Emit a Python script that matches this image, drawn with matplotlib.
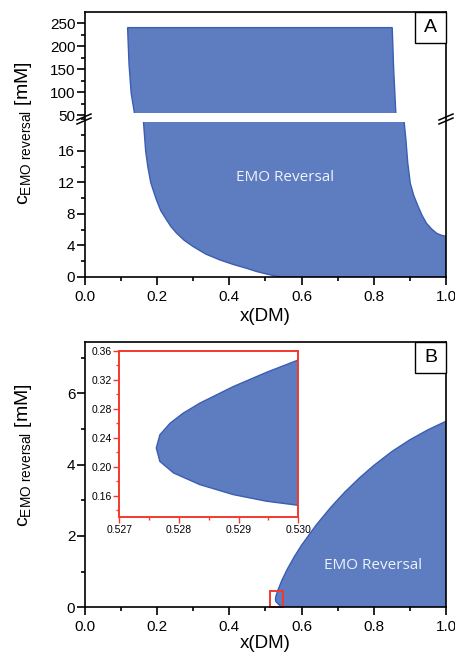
import matplotlib
matplotlib.use("Agg")
import matplotlib.pyplot as plt
from matplotlib.ticker import MultipleLocator, FormatStrFormatter
from matplotlib.lines import Line2D
from matplotlib.patches import Rectangle

plt.rcParams['font.family'] = ['Liberation Sans', 'DejaVu Sans']
plt.rcParams['mathtext.fontset'] = 'custom'
plt.rcParams['mathtext.rm'] = 'Liberation Sans'

# ---------------- data ----------------
# Panel A: boundaries of the EMO reversal region, x(DM) vs c [mM]
a_left_x = [0.545, 0.525, 0.503, 0.475, 0.448, 0.410, 0.374, 0.335, 0.300, 0.275,
            0.254, 0.238, 0.226, 0.210, 0.198, 0.189, 0.182, 0.174, 0.168, 0.162,
            0.137, 0.128, 0.122, 0.118]
a_left_c = [0.0, 0.15, 0.38, 0.70, 1.10, 1.60, 2.16, 2.90, 3.85, 4.65,
            5.55, 6.40, 7.24, 8.40, 9.78, 11.0, 12.0, 14.0, 16.0, 19.7,
            54.0, 97.0, 160.0, 240.0]
a_right_x = [1.0, 0.985, 0.974, 0.960, 0.946, 0.934, 0.923, 0.911, 0.901, 0.894,
             0.889, 0.884, 0.861, 0.855, 0.851]
a_right_c = [5.15, 5.33, 5.55, 6.10, 6.81, 7.80, 8.93, 10.3, 11.9, 14.5,
             17.4, 19.7, 54.0, 150.0, 240.0]

# Panel B: upper and lower branches of the reversal boundary
b_upper_x = [0.52762, 0.52768, 0.52785, 0.52807, 0.52835, 0.52891, 0.52947, 0.5300,
             0.535, 0.545, 0.560, 0.580, 0.600, 0.640, 0.680, 0.720, 0.760, 0.800,
             0.850, 0.900, 0.950, 1.000]
b_upper_c = [0.2258, 0.2441, 0.2600, 0.2740, 0.2879, 0.3108, 0.3306, 0.3476,
             0.498, 0.748, 1.063, 1.423, 1.743, 2.303, 2.795, 3.235, 3.627, 3.979,
             4.369, 4.699, 4.979, 5.219]
b_lower_x = [0.52762, 0.52768, 0.52791, 0.52835, 0.52891, 0.52947, 0.5300,
             0.535, 0.540, 0.545]
b_lower_c = [0.2258, 0.2073, 0.1913, 0.1752, 0.1614, 0.1522, 0.1466,
             0.095, 0.047, 0.0]

x_ticks = [0.0, 0.2, 0.4, 0.6, 0.8, 1.0]
inset_x_ticks = [0.527, 0.528, 0.529, 0.530]
inset_y_ticks = [0.16, 0.20, 0.24, 0.28, 0.32, 0.36]

# ---------------- styles ----------------
FILL = '#5D7DC0'
EDGE = '#3A5EB4'
RED = '#F23A2C'
W, H = 456, 654


def fx(px):
    return px / W


def fy(py):
    return 1 - py / H


fig = plt.figure(figsize=(W / 100, H / 100), dpi=100)

left, right = 85, 446
ax_top = fig.add_axes([fx(left), fy(117), fx(right - left), fy(12) - fy(117)])
ax_bot = fig.add_axes([fx(left), fy(277), fx(right - left), fy(117) - fy(277)])
ax_b = fig.add_axes([fx(left), fy(607.3), fx(right - left), fy(341.7) - fy(607.3)])

# polygons of the regions
a_poly_x = [1.0] + a_right_x + a_left_x[::-1]
a_poly_c = [0.0] + a_right_c + a_left_c[::-1]
b_poly_x = b_lower_x + [1.0] + b_upper_x[::-1]
b_poly_c = b_lower_c + [0.0] + b_upper_c[::-1]

BREAK_LO, BREAK_HI = 19.7, 54.0

for ax in (ax_top, ax_bot):
    ax.fill(a_poly_x, a_poly_c, facecolor=FILL, edgecolor=EDGE, lw=1.0, zorder=1)
    ax.set_xlim(0, 1.0)
ax_top.set_ylim(45.7, 274)
ax_bot.set_ylim(0, 20.3)
ax_top.axhspan(45.7, BREAK_HI, color='white', lw=0, zorder=2)
ax_bot.axhspan(BREAK_LO, 20.3, color='white', lw=0, zorder=2)

ax_b.fill(b_poly_x, b_poly_c, facecolor=FILL, edgecolor=EDGE, lw=1.0, zorder=1)
ax_b.set_xlim(0, 1.0)
ax_b.set_ylim(0, 7.45)

LW = 1.2
for ax in (ax_top, ax_bot, ax_b):
    for s in ax.spines.values():
        s.set_linewidth(LW)
        s.set_zorder(5)
    ax.tick_params(which='major', length=5.5, width=LW, labelsize=11, pad=1.5,
                   direction='out', top=False, right=False)
    ax.tick_params(which='minor', length=3, width=LW, direction='out',
                   top=False, right=False)
    ax.xaxis.set_minor_locator(MultipleLocator(0.1))

ax_top.spines['bottom'].set_visible(False)
ax_top.tick_params(axis='x', which='both', bottom=False, labelbottom=False)
ax_top.set_yticks([50, 100, 150, 200, 250])
ax_top.yaxis.set_minor_locator(MultipleLocator(25))
ax_top.set_ylim(45.7, 274)

ax_bot.spines['top'].set_visible(False)
ax_bot.set_yticks([0, 4, 8, 12, 16])
ax_bot.yaxis.set_minor_locator(MultipleLocator(2))

ax_b.set_yticks([0, 2, 4, 6])
ax_b.yaxis.set_minor_locator(MultipleLocator(1))

for ax, pad in ((ax_bot, 3), (ax_b, 0.5)):
    ax.set_xticks(x_ticks)
    ax.xaxis.set_major_formatter(FormatStrFormatter('%.1f'))
    ax.tick_params(axis='x', which='major', pad=4)
    ax.set_xlabel('x(DM)', fontsize=13.5, labelpad=pad)

# y labels
ylab = r'$\mathregular{c_{EMO\ reversal}}$ [mM]'
fig.text(fx(24), fy(133), ylab, rotation=90, ha='center', va='center', fontsize=14)
fig.text(fx(24), fy(455), ylab, rotation=90, ha='center', va='center', fontsize=14)

# region annotations
ax_bot.text(0.554, 12.6, 'EMO Reversal', color='#EEF2FA', fontsize=11,
            family='Open Sans', ha='center', va='center', zorder=3)
ax_b.text(0.798, 1.16, 'EMO Reversal', color='#EEF2FA', fontsize=11,
          family='Open Sans', ha='center', va='center', zorder=3)

# panel letters in boxes at the top-right corners
for label, top_px in (('A', 12), ('B', 341.7)):
    fig.add_artist(Rectangle((fx(415), fy(top_px + 31)), fx(31), fy(top_px) - fy(top_px + 31),
                             transform=fig.transFigure, facecolor='white',
                             edgecolor='black', lw=1.0, zorder=6))
    fig.text(fx(430.5), fy(top_px + 15.5), label, fontsize=14, ha='center',
             va='center', zorder=7)

# axis-break marks
for x0 in (77, 439):
    for dy in (0, 4):
        fig.add_artist(Line2D([fx(x0), fx(x0 + 14)], [fy(120 + dy), fy(114 + dy)],
                              transform=fig.transFigure, color='black', lw=1.1, zorder=8))

# zoom marker in panel B
ax_b.add_patch(Rectangle((0.513, 0.02), 0.036, 0.44, fill=False, edgecolor=RED,
                         lw=1.4, zorder=4, clip_on=False))

# inset
ax_in = fig.add_axes([fx(119.3), fy(517.3), fx(298.3 - 119.3), fy(351) - fy(517.3)])
ax_in.fill(b_poly_x, b_poly_c, facecolor=FILL, edgecolor=EDGE, lw=1.0, zorder=1)
ax_in.set_xlim(0.527, 0.530)
ax_in.set_ylim(0.13, 0.36)
ax_in.set_xticks(inset_x_ticks)
ax_in.set_yticks(inset_y_ticks)
ax_in.xaxis.set_minor_locator(MultipleLocator(0.0005))
ax_in.yaxis.set_minor_locator(MultipleLocator(0.02))
ax_in.xaxis.set_major_formatter(FormatStrFormatter('%.3f'))
ax_in.yaxis.set_major_formatter(FormatStrFormatter('%.2f'))
for s in ax_in.spines.values():
    s.set_color(RED)
    s.set_linewidth(1.4)
    s.set_zorder(5)
ax_in.tick_params(which='major', length=4, width=1.0, color=RED, labelsize=7.5,
                  pad=1.5, direction='out')
ax_in.tick_params(which='minor', length=2.2, width=1.0, color=RED, direction='out')

fig.savefig('out.png', dpi=100)
